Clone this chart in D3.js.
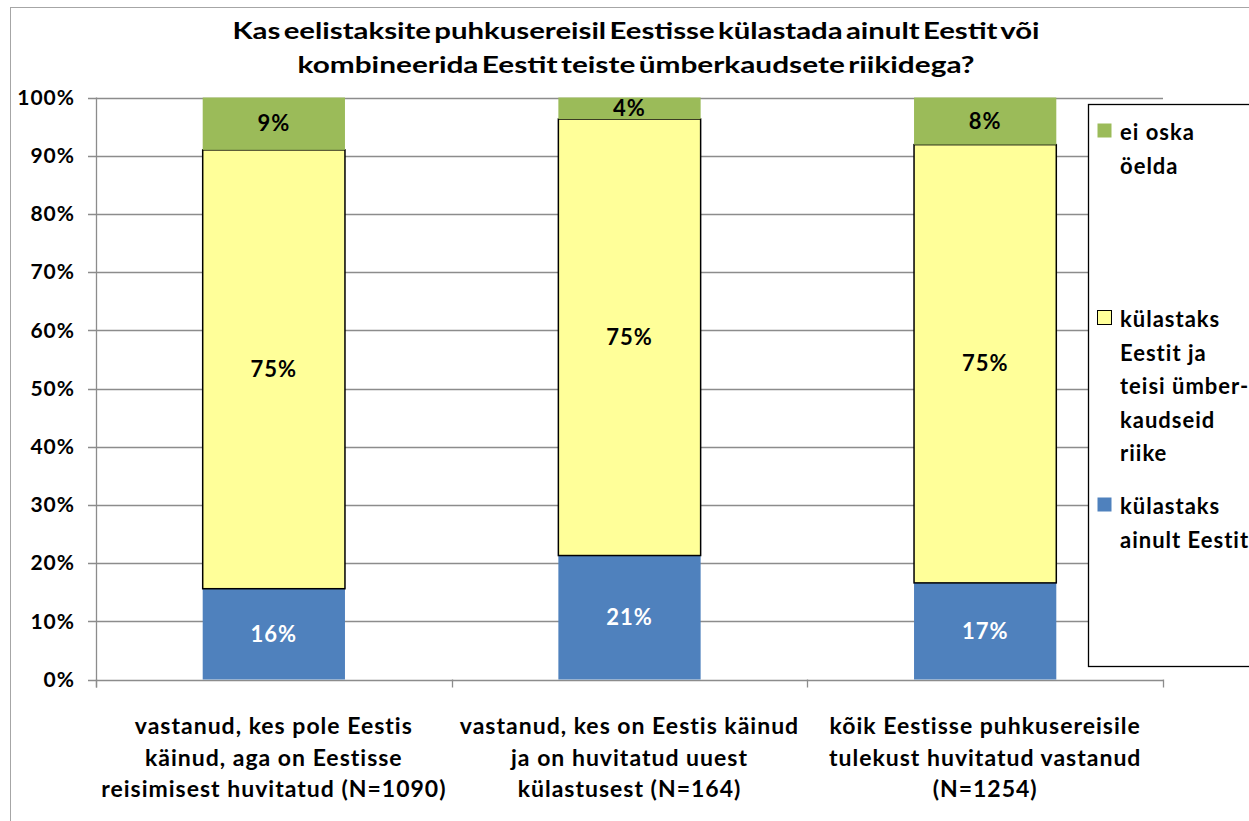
<!DOCTYPE html>
<html lang="et">
<head>
  <meta charset="UTF-8">
  <title>Eestisse puhkusereis</title>
  <script src="https://cdn.jsdelivr.net/npm/d3@7"></script>
  <style>
    html, body { margin: 0; padding: 0; background: #ffffff; }
    text { font-family: Lato, "Open Sans", sans-serif; font-weight: bold; }
  </style>
</head>
<body>
  <div class="chart"></div>
  <script>
    // data
    const categories = ["grp1", "grp2", "grp3"];
    const categoryLabels = [
      ["vastanud, kes pole Eestis", "käinud, aga on Eestisse", "reisimisest huvitatud  (N=1090)"],
      ["vastanud, kes on Eestis käinud", "ja on huvitatud uuest", "külastusest  (N=164)"],
      ["kõik Eestisse  puhkusereisile", "tulekust huvitatud  vastanud", "(N=1254)"]
    ];
    const onlyEstonia = [15.6, 21.3, 16.6];
    const withNeighbours = [75.4, 75.0, 75.3];
    const cantSay = [9.0, 3.7, 8.1];
    const yTicks = [0, 10, 20, 30, 40, 50, 60, 70, 80, 90, 100];
    const seriesNames = ["külastaks ainult Eestit", "külastaks Eestit ja teisi ümberkaudseid riike", "ei oska öelda"];
    const legendLines = [
      ["ei oska", "öelda"],
      ["külastaks", "Eestit ja", "teisi ümber-", "kaudseid", "riike"],
      ["külastaks", "ainult Eestit"]
    ];
    const titleLines = [
      "Kas eelistaksite puhkusereisil Eestisse külastada ainult Eestit või",
      "kombineerida Eestit teiste ümberkaudsete riikidega?"
    ];
    const titleWidths = [807, 677];

    const colors = { only: "#4f81bd", both: "#ffff99", dunno: "#9bbb59" };
    const W = 1249, H = 821;

    const svg = d3.select(".chart").append("svg")
      .attr("width", W)
      .attr("height", H);

    // outer chart border (only the left and top edges are visible)
    svg.append("rect")
      .attr("x", 10.5).attr("y", 7.5)
      .attr("width", W + 20).attr("height", H + 20)
      .attr("fill", "none")
      .attr("stroke", "#a6a6a6");

    const x = d3.scaleBand()
      .domain(categories)
      .range([96, 1163])
      .paddingInner(0.6)
      .paddingOuter(0.3);

    const y = d3.scaleLinear()
      .domain([0, 100])
      .range([679.5, 97.5]);

    // gridlines
    svg.append("g")
      .selectAll("line")
      .data(yTicks)
      .enter()
      .append("line")
      .attr("x1", 88).attr("x2", 1163)
      .attr("y1", d => Math.round(y(d)) + 0.5)
      .attr("y2", d => Math.round(y(d)) + 0.5)
      .attr("stroke", "#8c8c8c")
      .attr("stroke-width", 1.3);

    // y axis line
    svg.append("line")
      .attr("x1", 96.5).attr("x2", 96.5)
      .attr("y1", y(100)).attr("y2", y(0) + 8)
      .attr("stroke", "#8c8c8c")
      .attr("stroke-width", 1.3);

    // category separators under the axis
    const step = x.step();
    const bounds = [x.range()[0]].concat(categories.map(c => x(c) + x.bandwidth() / 2 + step / 2));
    svg.append("g")
      .selectAll("line")
      .data(bounds)
      .enter()
      .append("line")
      .attr("x1", d => Math.round(d) + 0.5).attr("x2", d => Math.round(d) + 0.5)
      .attr("y1", y(0)).attr("y2", y(0) + 8)
      .attr("stroke", "#8c8c8c")
      .attr("stroke-width", 1.3);

    // y tick labels
    svg.append("g")
      .selectAll("text")
      .data(yTicks)
      .enter()
      .append("text")
      .attr("x", 75)
      .attr("y", d => y(d))
      .attr("dy", "0.35em")
      .attr("text-anchor", "end")
      .style("font-size", "21px")
      .style("letter-spacing", "1px")
      .text(d => d + "%");

    // stacked bars
    const rows = categories.map((c, i) => ({
      cat: c,
      only: onlyEstonia[i],
      both: withNeighbours[i],
      dunno: cantSay[i]
    }));
    const stack = d3.stack().keys(["only", "both", "dunno"]);
    const layers = stack(rows);

    const layerG = svg.append("g")
      .selectAll("g")
      .data(layers)
      .enter()
      .append("g");

    layerG.selectAll("rect")
      .data(d => d.map(s => ({ key: d.key, s: s })))
      .enter()
      .append("rect")
      .attr("x", d => x(d.s.data.cat))
      .attr("y", d => y(d.s[1]))
      .attr("width", x.bandwidth())
      .attr("height", d => y(d.s[0]) - y(d.s[1]))
      .attr("fill", d => colors[d.key])
      .attr("stroke", d => d.key === "both" ? "#000000" : "none")
      .attr("stroke-width", 1.5);

    layerG.selectAll("text")
      .data(d => d.map(s => ({ key: d.key, s: s })))
      .enter()
      .append("text")
      .attr("x", d => x(d.s.data.cat) + x.bandwidth() / 2)
      .attr("y", d => (y(d.s[0]) + y(d.s[1])) / 2)
      .attr("dy", "0.35em")
      .attr("text-anchor", "middle")
      .attr("fill", d => d.key === "only" ? "#ffffff" : "#000000")
      .style("font-size", "22px")
      .style("letter-spacing", "1px")
      .text(d => Math.round(d.s[1] - d.s[0]) + "%");

    // category labels
    svg.append("g")
      .selectAll("text")
      .data(categories)
      .enter()
      .append("text")
      .attr("text-anchor", "middle")
      .style("font-size", "23px")
      .style("letter-spacing", "1px")
      .each(function(c, i) {
        const t = d3.select(this);
        categoryLabels[i].forEach((line, j) => {
          t.append("tspan")
            .attr("x", x(c) + x.bandwidth() / 2)
            .attr("y", 734 + j * 31.5)
            .text(line);
        });
      });

    // title
    svg.append("g")
      .selectAll("text")
      .data(titleLines)
      .enter()
      .append("text")
      .attr("x", 636)
      .attr("y", (d, i) => 39 + i * 34)
      .attr("text-anchor", "middle")
      .attr("textLength", (d, i) => titleWidths[i])
      .attr("lengthAdjust", "spacingAndGlyphs")
      .style("font-size", "23px")
      .style("word-spacing", "-3px")
      .text(d => d);

    // legend
    const legend = svg.append("g");
    legend.append("rect")
      .attr("x", 1088.5).attr("y", 104.5)
      .attr("width", 200).attr("height", 562)
      .attr("fill", "#ffffff")
      .attr("stroke", "#000000")
      .attr("stroke-width", 1.3);

    const legendTop = [140, 327, 514];
    const legendKeys = ["dunno", "both", "only"];
    legendKeys.forEach((k, i) => {
      legend.append("rect")
        .attr("x", 1097.5).attr("y", legendTop[i] - 16.5)
        .attr("width", 14).attr("height", 14)
        .attr("fill", colors[k])
        .attr("stroke", k === "both" ? "#000000" : "none")
        .attr("stroke-width", 1);
      const t = legend.append("text")
        .style("font-size", "22px")
        .style("letter-spacing", "1px")
        .attr("aria-label", seriesNames[2 - i]);
      legendLines[i].forEach((line, j) => {
        t.append("tspan")
          .attr("x", 1120)
          .attr("y", legendTop[i] + j * 33.6)
          .text(line);
      });
    });
  </script>
</body>
</html>
